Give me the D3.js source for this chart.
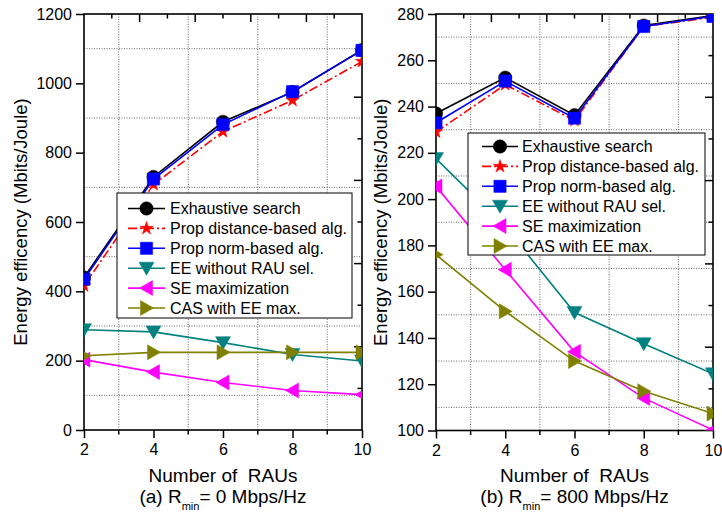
<!DOCTYPE html>
<html>
<head>
<meta charset="utf-8">
<script src="https://cdn.jsdelivr.net/npm/d3@7"></script>
<style>
  body { margin: 0; background: #fff; }
  svg { font-family: "Liberation Sans", Arial, sans-serif; }
</style>
</head>
<body>
<svg id="chart" width="722" height="515"></svg>
<script>
// ── Data ──
const rauCounts = [2, 4, 6, 8, 10];
const seriesNames = ["Exhaustive search", "Prop distance-based alg.", "Prop norm-based alg.",
  "EE without RAU sel.", "SE maximization", "CAS with EE max."];
const seriesColors = ["#000000", "#ff0000", "#0000ff", "#008080", "#ff00ff", "#808000"];
const seriesMarkers = ["circle", "star", "square", "triDown", "triLeft", "triRight"];

// (a) Rmin = 0 Mbps/Hz
const exhaustiveA = [440, 730, 889, 975, 1096];
const distanceA = [416, 708, 861, 951, 1063];
const normA = [435, 724, 881, 976, 1095];
const noSelA = [289, 283, 252, 218, 199];
const seMaxA = [203, 167, 137, 114, 102];
const casA = [214, 224, 224, 224, 224];
const yTicksA = [0, 200, 400, 600, 800, 1000, 1200];

// (b) Rmin = 800 Mbps/Hz
const exhaustiveB = [237, 252.5, 236.3, 275, 279.3];
const distanceB = [229, 249.5, 234, 274.6, 278.6];
const normB = [233, 251, 235, 274.6, 279];
const noSelB = [217.5, 188, 151, 137.5, 124.5];
const seMaxB = [205.5, 169.5, 134, 114, 100.2];
const casB = [176, 151.5, 130, 117, 107.3];
const yTicksB = [100, 120, 140, 160, 180, 200, 220, 240, 260, 280];

const svg = d3.select("#chart");

const panels = [
  { id: "a", x0: 84, x1: 362, y0: 14, y1: 430, domain: [0, 1200], yTicks: yTicksA, yMinor: 100,
    series: [exhaustiveA, distanceA, normA, noSelA, seMaxA, casA],
    legend: { x: 117, y: 193, w: 235, h: 125, lineX: 128, lineW: 37, textX: 170, rowY: 208.5 },
    caption: ["(a) R", "min", "= 0 Mbps/Hz"], titleX: 21 },
  { id: "b", x0: 436, x1: 713, y0: 14, y1: 430.5, domain: [100, 280], yTicks: yTicksB, yMinor: 10,
    series: [exhaustiveB, distanceB, normB, noSelB, seMaxB, casB],
    legend: { x: 468, y: 133, w: 237, h: 122, lineX: 482, lineW: 36, textX: 522, rowY: 146.5 },
    caption: ["(b) R", "min", "= 800 Mbps/Hz"], titleX: 381 }
];

function markerPath(type) {
  switch (type) {
    case "circle": return d3.symbol(d3.symbolCircle, 140)();
    case "square": return d3.symbol(d3.symbolSquare, 150)();
    case "star": return d3.symbol(d3.symbolStar, 55)();
    case "triDown": return "M-7.5,-6L7.5,-6L0,7Z";
    case "triLeft": return "M-7,0L6,-7.5L6,7.5Z";
    case "triRight": return "M7,0L-6,-7.5L-6,7.5Z";
  }
}

function drawMarker(g, type, color, x, y) {
  g.append("path")
    .attr("d", markerPath(type))
    .attr("transform", `translate(${x},${y})`)
    .attr("fill", color)
    .attr("stroke", color)
    .attr("stroke-width", 0.5);
}

panels.forEach(p => {
  const x = d3.scaleLinear().domain([2, 10]).range([p.x0, p.x1]);
  const y = d3.scaleLinear().domain(p.domain).range([p.y1, p.y0]);
  // top/right frame ticks (separate layer in the original)
  const xTop = d3.scaleLinear().domain([0, 10]).range([p.x0, p.x1]);
  const yRight = d3.scaleLinear().domain([0, 10]).range([p.y1, p.y0]);

  const g = svg.append("g");

  g.append("clipPath").attr("id", "clip-" + p.id)
    .append("rect")
    .attr("x", p.x0).attr("y", p.y0)
    .attr("width", p.x1 - p.x0).attr("height", p.y1 - p.y0);

  // ── Grid (at minor ticks) ──
  const gridX = [3, 5, 7, 9];
  const gridY = d3.range(p.domain[0] + p.yMinor, p.domain[1], p.yMinor * 2);
  g.selectAll(".gx").data(gridX).enter().append("line")
    .attr("x1", d => x(d)).attr("x2", d => x(d))
    .attr("y1", p.y0).attr("y2", p.y1)
    .attr("stroke", "#444").attr("stroke-width", 0.8).attr("stroke-dasharray", "1,1.5");
  g.selectAll(".gy").data(gridY).enter().append("line")
    .attr("x1", p.x0).attr("x2", p.x1)
    .attr("y1", d => y(d)).attr("y2", d => y(d))
    .attr("stroke", "#444").attr("stroke-width", 0.8).attr("stroke-dasharray", "1,1.5");

  // ── Axes ──
  const xAxis = d3.axisBottom(x).tickValues(rauCounts).tickSize(8).tickPadding(6)
    .tickFormat(d3.format("d"));
  const gx = g.append("g").attr("transform", `translate(0,${p.y1})`).call(xAxis);
  const yAxis = d3.axisLeft(y).tickValues(p.yTicks).tickSize(8).tickPadding(4)
    .tickFormat(d3.format("d"));
  const gy = g.append("g").attr("transform", `translate(${p.x0},0)`).call(yAxis);
  [gx, gy].forEach(a => {
    a.select(".domain").remove();
    a.selectAll(".tick line").attr("stroke", "#000").attr("stroke-width", 1.5);
    a.selectAll("text").attr("fill", "#000").style("font-size", "16px");
  });
  // minor ticks on bottom
  g.selectAll(".mx").data(gridX).enter().append("line")
    .attr("x1", d => x(d)).attr("x2", d => x(d))
    .attr("y1", p.y1).attr("y2", p.y1 + 4.5)
    .attr("stroke", "#000").attr("stroke-width", 1.5);

  // top & right inward ticks
  const inner = d3.range(1, 10);
  g.selectAll(".tt").data(inner).enter().append("line")
    .attr("x1", d => xTop(d)).attr("x2", d => xTop(d))
    .attr("y1", p.y0).attr("y2", d => p.y0 + (d % 2 === 0 ? 8 : 4.5))
    .attr("stroke", "#000").attr("stroke-width", 1.5);
  g.selectAll(".rt").data(inner).enter().append("line")
    .attr("y1", d => yRight(d)).attr("y2", d => yRight(d))
    .attr("x1", p.x1).attr("x2", d => p.x1 - (d % 2 === 0 ? 8 : 4.5))
    .attr("stroke", "#000").attr("stroke-width", 1.5);

  // frame
  g.append("rect")
    .attr("x", p.x0).attr("y", p.y0)
    .attr("width", p.x1 - p.x0).attr("height", p.y1 - p.y0)
    .attr("fill", "none").attr("stroke", "#000").attr("stroke-width", 1.6);

  // ── Series ──
  const plot = g.append("g").attr("clip-path", `url(#clip-${p.id})`);
  const line = d3.line().x((d, i) => x(rauCounts[i])).y(d => y(d));
  const order = [3, 4, 5, 0, 1, 2];
  order.forEach(si => {
    const vals = p.series[si];
    plot.append("path")
      .attr("d", line(vals))
      .attr("fill", "none")
      .attr("stroke", seriesColors[si])
      .attr("stroke-width", 1.6)
      .attr("stroke-dasharray", si === 1 ? "9,3,2,3" : null);
    vals.forEach((v, i) => drawMarker(plot, seriesMarkers[si], seriesColors[si], x(rauCounts[i]), y(v)));
  });

  // ── Legend ──
  const L = p.legend;
  const lg = g.append("g");
  lg.append("rect")
    .attr("x", L.x).attr("y", L.y).attr("width", L.w).attr("height", L.h)
    .attr("fill", "#fff").attr("stroke", "#000").attr("stroke-width", 1);
  seriesNames.forEach((name, i) => {
    const ry = L.rowY + i * 19.9;
    lg.append("line")
      .attr("x1", L.lineX).attr("x2", L.lineX + L.lineW)
      .attr("y1", ry).attr("y2", ry)
      .attr("stroke", seriesColors[i]).attr("stroke-width", 1.6)
      .attr("stroke-dasharray", i === 1 ? "9,3,2,3" : null);
    drawMarker(lg, seriesMarkers[i], seriesColors[i], L.lineX + L.lineW / 2, ry);
    lg.append("text")
      .attr("x", L.textX).attr("y", ry + 5.5)
      .style("font-size", "16px")
      .text(name);
  });

  // ── Titles ──
  const cx = (p.x0 + p.x1) / 2;
  g.append("text")
    .attr("x", cx).attr("y", 482)
    .attr("text-anchor", "middle")
    .style("font-size", "19px")
    .text("Number of\u00a0 RAUs");
  const cap = g.append("text")
    .attr("x", cx).attr("y", 503)
    .attr("text-anchor", "middle")
    .style("font-size", "19px");
  cap.append("tspan").text(p.caption[0]);
  cap.append("tspan").attr("dy", 7).style("font-size", "11px").text(p.caption[1]);
  cap.append("tspan").attr("dy", -7).text(p.caption[2]);

  g.append("text")
    .attr("transform", `translate(${p.titleX + 6},${(p.y0 + p.y1) / 2}) rotate(-90)`)
    .attr("text-anchor", "middle")
    .style("font-size", "18.5px")
    .text("Energy efficency (Mbits/Joule)");
});
</script>
</body>
</html>
